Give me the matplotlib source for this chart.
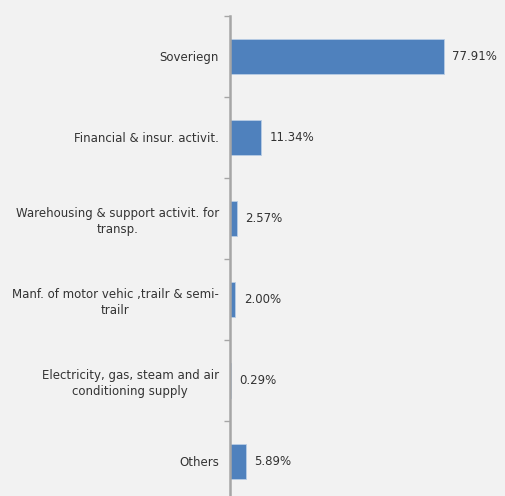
import matplotlib.pyplot as plt
import numpy as np

categories = ['Soveriegn', 'Financial & insur. activit.',
              'Warehousing & support activit. for\ntransp.',
              'Manf. of motor vehic ,trailr & semi-\ntrailr',
              'Electricity, gas, steam and air\nconditioning supply',
              'Others']
values = [77.91, 11.34, 2.57, 2.00, 0.29, 5.89]

plt.rcParams['font.family'] = ['DejaVu Sans']

fig = plt.figure(figsize=(5.06, 4.96), dpi=100, facecolor='#F2F2F2')
ax = fig.add_axes([230 / 506, -6 / 496, 276 / 506, 486 / 496])
ax.set_facecolor('#F2F2F2')

y = np.arange(len(categories))
ax.barh(y, values, height=0.42, color='#4F81BD', edgecolor='#B9CDE5', linewidth=0.6)
ax.set_ylim(len(categories) - 0.5, -0.5)
ax.set_xlim(0, 100.4)

for yi, v in zip(y, values):
    ax.text(v + 3.0, yi, f'{v:.2f}%', va='center', ha='left', fontsize=8.5, color='#333333')

ax.set_yticks(y)
ax.set_yticklabels(categories, fontsize=8.5, color='#333333',
                   multialignment='center', linespacing=1.3)
ax.tick_params(axis='y', which='major', length=0, pad=8)
ax.set_yticks(np.arange(len(categories) + 1) - 0.5, minor=True)
ax.tick_params(axis='y', which='minor', length=4, width=1, color='#A6A6A6')
ax.set_xticks([])

for s in ['top', 'right', 'bottom']:
    ax.spines[s].set_visible(False)
ax.spines['left'].set_color('#A6A6A6')
ax.spines['left'].set_linewidth(1.8)

fig.savefig('out.png', dpi=100, facecolor=fig.get_facecolor())
